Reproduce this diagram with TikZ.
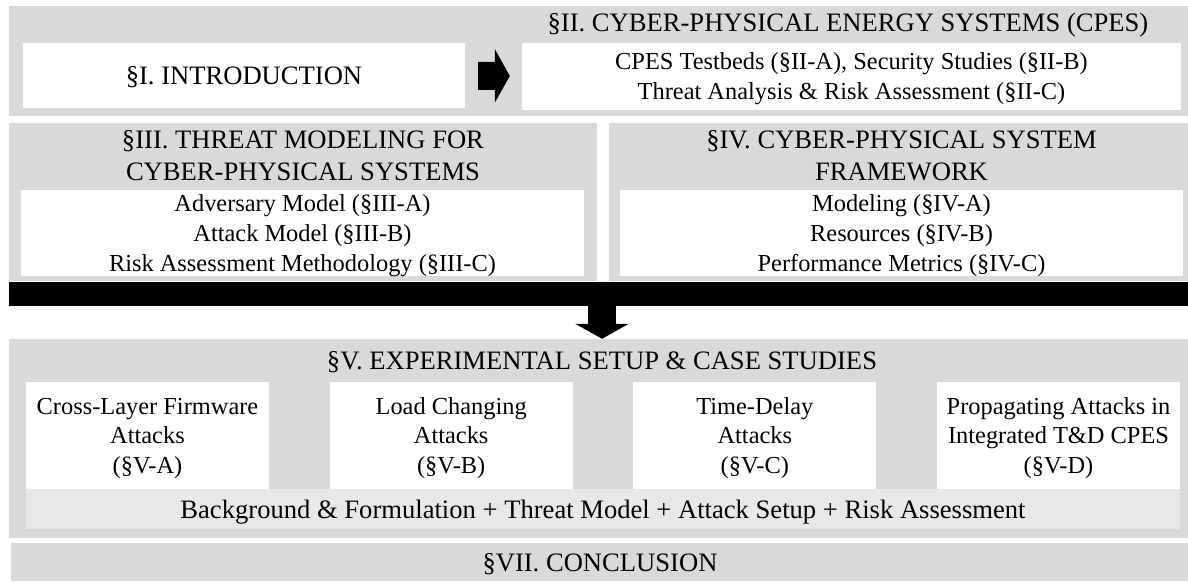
\documentclass[tikz,border=0pt]{standalone}
\usepackage{fontspec}
\setmainfont{Liberation Serif}
\usetikzlibrary{arrows.meta, positioning}

\definecolor{bandgray}{RGB}{217,217,217}
\definecolor{stripgray}{RGB}{232,232,232}

\newcommand{\secfont}{\fontsize{26.6}{32}\selectfont}
\newcommand{\itemfont}{\fontsize{24.4}{30}\selectfont}
\newcommand{\casefont}{\fontsize{24.4}{29.5}\selectfont}

\begin{document}
\begin{tikzpicture}[x=1pt, y=-1pt,
  wh/.style 2 args={minimum width=#1pt, minimum height=#2pt},
  band/.style={fill=bandgray, inner sep=0pt},
  boxtext/.style={inner sep=0pt, align=center, text depth=-3pt},
  whitebox/.style={fill=white, boxtext, font=\itemfont},
  headtext/.style={inner sep=0pt, align=center, font=\secfont},
  blockarrow/.style={line width=28pt, -{Triangle[length=15pt, width=53pt]}}]

  \useasboundingbox (0,0) rectangle (1188,581);

  % Gray bands
  \node[band, wh={1179}{110}] (sec2) at (598.5,61) {};
  \node[band, wh={588}{158}] (sec3) at (303,202) {};
  \node[band, wh={579}{158}] (sec4) at (898.5,202) {};
  \node[fill=black, inner sep=0pt, wh={1179}{24}] (bar) at (598.5,294) {};
  \node[band, wh={1179}{199}] (sec5) at (598.5,438.5) {};
  \node[band, boxtext, wh={1179}{38}, font=\secfont] (sec7) at (600,562) {§VII. CONCLUSION};

  % Section titles
  \node[headtext] (sec2title) at (848,25) {§II. CYBER-PHYSICAL ENERGY SYSTEMS (CPES)};
  \node[headtext] (sec3title) at (303,156) {§III. THREAT MODELING FOR\\CYBER-PHYSICAL SYSTEMS};
  \node[headtext] (sec4title) at (901.5,156) {§IV. CYBER-PHYSICAL SYSTEM\\FRAMEWORK};
  \node[headtext] (sec5title) at (602,362) {§V. EXPERIMENTAL SETUP \& CASE STUDIES};

  % White boxes
  \node[whitebox, wh={442}{65}, font=\secfont] (intro) at (244,75.5) {§I. INTRODUCTION};
  \node[whitebox, wh={659}{67}] (sec2box) at (851.5,76.5)
    {CPES Testbeds (§II-A), Security Studies (§II-B)\\Threat Analysis \& Risk Assessment (§II-C)};
  \node[whitebox, wh={563}{86}] (sec3box) at (302.5,233)
    {Adversary Model (§III-A)\\Attack Model (§III-B)\\Risk Assessment Methodology (§III-C)};
  \node[whitebox, wh={563}{86}] (sec4box) at (901.5,233)
    {Modeling (§IV-A)\\Resources (§IV-B)\\Performance Metrics (§IV-C)};

  % Case studies
  \foreach \name/\txt [count=\i from 0] in {
      casea/{Cross-Layer Firmware\\Attacks\\(§V-A)},
      caseb/{Load Changing\\Attacks\\(§V-B)},
      casec/{Time-Delay\\Attacks\\(§V-C)},
      cased/{Propagating Attacks in\\Integrated T\&D CPES\\(§V-D)}} {
    \node[whitebox, wh={243}{107}, font=\casefont] (\name) at (147.5+303.67*\i,435.5) {\txt};
  }
  \node[fill=stripgray, boxtext, wh={1154}{40}, font=\secfont] (strip) at (603,509)
    {Background \& Formulation + Threat Model + Attack Setup + Risk Assessment};

  % Arrows
  \draw[blockarrow, shorten <=13pt, shorten >=12pt] (intro) -- (sec2box);
  \draw[blockarrow] (bar.south -| sec5title) -- (sec5.north -| sec5title);
\end{tikzpicture}
\end{document}
